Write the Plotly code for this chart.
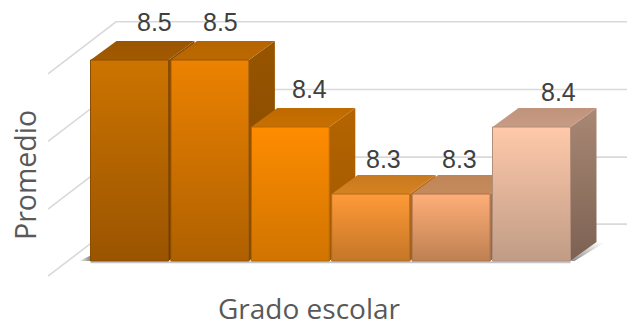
import plotly.graph_objects as go

categories = ["1", "2", "3", "4", "5", "6"]
values = [8.5, 8.5, 8.4, 8.3, 8.3, 8.4]
value_labels = ["8.5", "8.5", "8.4", "8.3", "8.3", "8.4"]
grid_levels = [8.255, 8.355, 8.456, 8.557]

front_top = ["#CC7400", "#EC8200", "#FF8C00", "#FF9A38", "#FFAE78", "#FFC9AA"]
front_bot = ["#9A5400", "#AE6000", "#D07400", "#C47628", "#BE8052", "#C09C86"]
top_back = ["#9A5500", "#B56400", "#BD6A00", "#C87A20", "#BF8556", "#BF937C"]
top_front = ["#A35A00", "#BC6900", "#C87000", "#D6821F", "#C68B5C", "#C89C84"]
side_top = ["#8A4C00", "#985500", "#B56400", "#B86C1C", "#AE764C", "#A98874"]
side_bot = ["#6E3C00", "#7E4600", "#9E5800", "#9A5C18", "#94643E", "#7C6152"]
edge = ["#8A4C00", "#9A5400", "#B56400", "#B06A20", "#A9734C", "#B08E7A"]

label_dx = [25, 11, 19, 13, 8, 27]
label_dy = [38, 38, 38, 35, 35, 35]

W, H = 627, 327
PX_X = 80.4
PX_Y = 670.0
X0 = 129.5
Y_FLOOR = 261
FLOOR = 8.2
HALF = 39 / PX_X
DX = 26 / PX_X
DY = 19 / PX_Y
LDX = -68 / PX_X
LDY = -52 / PX_Y
WALL_L = 116
x_range = [(0 - X0) / PX_X, (W - X0) / PX_X]
y_range = [FLOOR + (Y_FLOOR - H) / PX_Y, FLOOR + Y_FLOOR / PX_Y]
x_wall = (WALL_L - X0) / PX_X

fig = go.Figure()


def poly(xs, ys, c0, c1, line=None, horizontal=False):
    fig.add_trace(go.Scatter(
        x=xs + xs[:1], y=ys + ys[:1], mode="lines", fill="toself",
        fillgradient=dict(type="horizontal" if horizontal else "vertical",
                          colorscale=[[0, c0], [1, c1]]),
        line=dict(color=line or "rgba(0,0,0,0)", width=1),
        hoverinfo="skip", showlegend=False,
    ))


for level in grid_levels:
    fig.add_trace(go.Scatter(
        x=[x_wall + LDX, x_wall, x_range[1]],
        y=[level + LDY, level, level],
        mode="lines", line=dict(color="#D9D9D9", width=1.6),
        hoverinfo="skip", showlegend=False,
    ))

# floor shadows
poly([-0.63, -0.49, -0.49], [FLOOR, FLOOR, FLOOR + 0.008], "#FFFFFF", "#8A8A8A", horizontal=True)
poly([5 + HALF, 5 + HALF + DX, 5 + HALF + DX + 0.11, 5 + HALF + 0.05],
     [FLOOR, FLOOR + DY, FLOOR + DY, FLOOR - 0.0],
     "#8E8E8E", "#FFFFFF", horizontal=False)
fig.add_trace(go.Scatter(
    x=[-HALF, 5 + HALF], y=[FLOOR - 0.002, FLOOR - 0.002], mode="lines",
    line=dict(color="#C4C4C4", width=2), hoverinfo="skip", showlegend=False,
))

for i, v in enumerate(values):
    l, r = i - HALF, i + HALF
    poly([r, r + DX, r + DX, r], [FLOOR, FLOOR + DY, v + DY, v],
         side_bot[i], side_top[i])
    poly([l, r, r + DX, l + DX], [v, v, v + DY, v + DY],
         top_front[i], top_back[i])
    poly([l, r, r, l], [FLOOR, FLOOR, v, v],
         front_bot[i], front_top[i], line=edge[i])

annotations = []
for i, v in enumerate(values):
    annotations.append(dict(
        x=i, y=v, xref="x", yref="y", text=value_labels[i], showarrow=False,
        xshift=label_dx[i], yshift=label_dy[i],
        font=dict(family="Liberation Sans", size=25, color="#404040"),
    ))
annotations.append(dict(
    x=309 / W, y=1 - 308 / H, xref="paper", yref="paper", text="Grado escolar",
    xanchor="center", yanchor="middle",
    showarrow=False, font=dict(family="Open Sans", size=28, color="#595959"),
))
annotations.append(dict(
    x=25 / W, y=1 - 175 / H, xref="paper", yref="paper", text="Promedio",
    xanchor="center", yanchor="middle",
    textangle=-90, showarrow=False, font=dict(family="Open Sans", size=28.5, color="#595959"),
))

fig.update_layout(
    width=W, height=H, margin=dict(l=0, r=0, t=0, b=0),
    paper_bgcolor="white", plot_bgcolor="white", showlegend=False,
    xaxis=dict(range=x_range, visible=False, fixedrange=True),
    yaxis=dict(range=y_range, visible=False, fixedrange=True),
    annotations=annotations,
)
fig.write_html("out.html", config={"displayModeBar": False},
               post_script="document.documentElement.style.overflow='hidden';document.body.style.margin='0';")
